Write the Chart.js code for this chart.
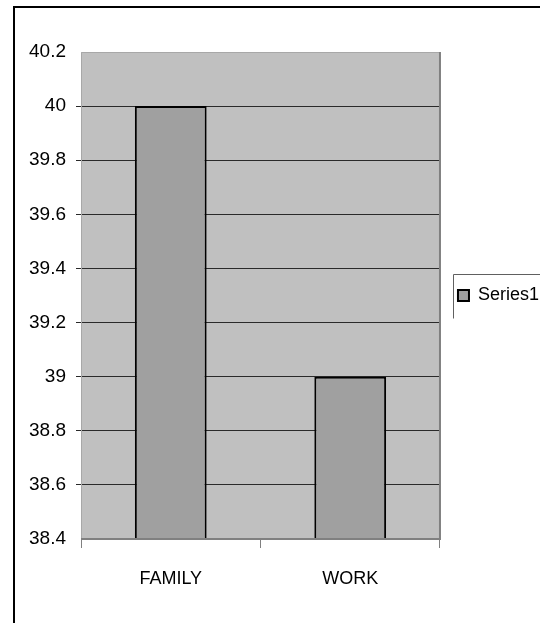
<!DOCTYPE html>
<html>
<head>
<meta charset="utf-8">
<script src="https://cdn.jsdelivr.net/npm/chart.js@4/dist/chart.umd.min.js"></script>
<style>
  html, body { margin: 0; padding: 0; background: #ffffff; }
  #wrap { position: relative; width: 540px; height: 623px; }
</style>
</head>
<body>
<div id="wrap"><canvas id="c" width="540" height="623"></canvas></div>
<script>
// Category names and the single series shown on the chart
const categories = ['FAMILY', 'WORK'];
const series1 = [40, 39];
const seriesName = 'Series1';

// Value axis range and spacing
const yMin = 38.4;
const yMax = 40.2;
const yStep = 0.2;

const FONT = "'Liberation Sans', Arial, sans-serif";

// Gray plot background, bevelled plot border, outer frame and legend frame
const decorations = {
  id: 'decorations',
  beforeDraw(chart) {
    const { ctx, chartArea: a } = chart;
    ctx.save();
    ctx.fillStyle = '#c0c0c0';
    ctx.fillRect(a.left, a.top, a.right - a.left, a.bottom - a.top);
    ctx.restore();
  },
  beforeDatasetsDraw(chart) {
    const { ctx, chartArea: a } = chart;
    ctx.save();
    // top / left plot edges (light gray)
    ctx.strokeStyle = '#a8a8a8';
    ctx.lineWidth = 1;
    ctx.beginPath();
    ctx.moveTo(a.left + 0.5, a.bottom);
    ctx.lineTo(a.left + 0.5, a.top + 0.5);
    ctx.lineTo(a.right, a.top + 0.5);
    ctx.stroke();
    ctx.restore();
  },
  afterDraw(chart) {
    const { ctx, chartArea: a, legend } = chart;
    ctx.save();
    // right / bottom plot edges (darker gray, 2px)
    ctx.strokeStyle = '#808080';
    ctx.lineWidth = 2;
    ctx.beginPath();
    ctx.moveTo(a.left, a.bottom);
    ctx.lineTo(a.right, a.bottom);
    ctx.lineTo(a.right, a.top);
    ctx.stroke();
    // outer frame (left and top edges)
    ctx.strokeStyle = '#000000';
    ctx.lineWidth = 2;
    ctx.beginPath();
    ctx.moveTo(14, 623);
    ctx.lineTo(14, 7);
    ctx.lineTo(540, 7);
    ctx.stroke();
    // legend frame
    if (legend && legend.legendHitBoxes && legend.legendHitBoxes.length) {
      const hb = legend.legendHitBoxes[0];
      const cy = hb.top + hb.height / 2;
      const x = Math.round(hb.left) - 4.5;
      const top = Math.round(cy) - 21.5;
      ctx.strokeStyle = '#606060';
      ctx.lineWidth = 1;
      ctx.beginPath();
      ctx.moveTo(x, top + 44);
      ctx.lineTo(x, top);
      ctx.lineTo(560, top);
      ctx.stroke();
    }
    ctx.restore();
  }
};

const edgeColor = (c, color) => {
  const v = c.tick ? c.tick.value : null;
  if (v === null) return color;
  if (Math.abs(v - yMin) < 1e-6 || Math.abs(v - yMax) < 1e-6) return 'rgba(0,0,0,0)';
  return color;
};

new Chart(document.getElementById('c'), {
  type: 'bar',
  data: {
    labels: categories,
    datasets: [{
      label: seriesName,
      data: series1,
      backgroundColor: '#a0a0a0',
      borderColor: '#000000',
      borderWidth: 2,
      borderSkipped: false,
      categoryPercentage: 1.0,
      barPercentage: 0.4
    }]
  },
  options: {
    responsive: false,
    animation: false,
    layout: { padding: { top: 52, left: 0, right: -9, bottom: 0 } },
    plugins: {
      legend: {
        position: 'right',
        align: 'center',
        fullSize: false,
        labels: {
          font: { family: FONT, size: 18 },
          color: '#000000',
          boxWidth: 11,
          boxHeight: 11,
          padding: 18,
          generateLabels(chart) {
            return [{
              text: seriesName,
              fillStyle: '#a0a0a0',
              strokeStyle: '#000000',
              lineWidth: 2,
              datasetIndex: 0,
              hidden: false
            }];
          }
        }
      },
      tooltip: { enabled: false }
    },
    scales: {
      x: {
        offset: true,
        grid: {
          offset: true,
          drawOnChartArea: false,
          drawTicks: true,
          tickLength: 9,
          color: '#808080'
        },
        border: { display: false },
        ticks: {
          font: { family: FONT, size: 18 },
          color: '#000000',
          padding: 20
        },
        afterFit(scale) { scale.height = 84; }
      },
      y: {
        min: yMin,
        max: yMax,
        grid: {
          color: (c) => edgeColor(c, '#2a2a2a'),
          lineWidth: 1,
          tickLength: 5
        },
        border: { display: false },
        ticks: {
          stepSize: yStep,
          font: { family: FONT, size: 19 },
          color: '#000000',
          padding: 10,
          callback: (v) => String(Number(Number(v).toFixed(1)))
        },
        afterFit(scale) { scale.width = 81; }
      }
    }
  },
  plugins: [decorations]
});
</script>
</body>
</html>
